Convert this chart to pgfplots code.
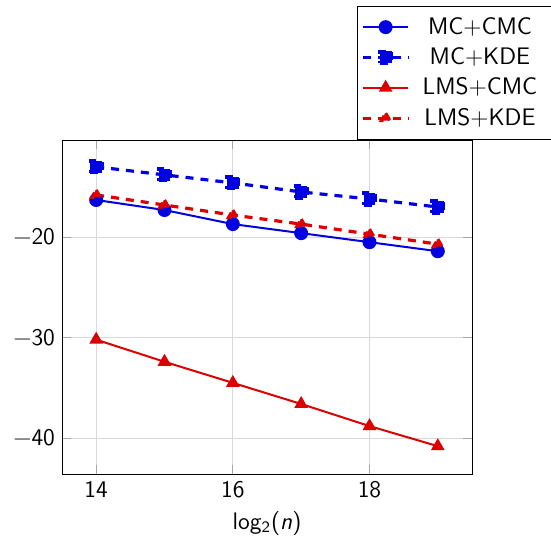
\documentclass[border=0pt]{standalone}
\usepackage{pgfplots}
\pgfplotsset{compat=1.18}
\definecolor{cblue}{RGB}{0,0,225}
\definecolor{cred}{RGB}{220,0,0}
\begin{document}
\begin{tikzpicture}
\begin{axis}[
  at={(0,0)}, anchor=south west,
  scale only axis, width=205bp, height=167bp,
  xmin=13.5, xmax=19.5, ymin=-43.57, ymax=-10.33,
  xtick={14,16,18}, xticklabels={14,16,18},
  ytick={-40,-30,-20}, yticklabels={−40,−30,−20},
  grid=major, grid style={gray!30, line width=0.6pt},
  tick style={gray!70, line width=0.6pt},
  font=\large\sffamily,
  xlabel={log\textsubscript{2}(\textit{n})},
  legend style={at={(0.7195,1.401)}, anchor=north west, font=\large\sffamily, draw=black, row sep=1.2bp, inner xsep=2pt, inner ysep=3.4pt},
  legend image code/.code={\draw[mark repeat=2,mark phase=2] plot coordinates {(0cm,0cm) (0.4cm,0cm) (0.8cm,0cm)};},
  every axis plot/.append style={mark size=3},
]
\addplot[color=cblue, line width=1bp, mark=*] coordinates {(14,-16.3) (15,-17.3) (16,-18.7) (17,-19.6) (18,-20.5) (19,-21.4)};
\addlegendentry{\makebox[66bp]{MC+CMC}}
\addplot[color=cblue, line width=1.6bp, dash pattern=on 4bp off 3.5bp, mark=square*, mark options={dash pattern=on 4bp off 3.5bp}] coordinates {(14,-13.0) (15,-13.8) (16,-14.6) (17,-15.5) (18,-16.2) (19,-17.0)};
\addlegendentry{\makebox[66bp]{MC+KDE}}
\addplot[color=cred, line width=1bp, mark=triangle*] coordinates {(14,-30.2) (15,-32.4) (16,-34.5) (17,-36.6) (18,-38.8) (19,-40.8)};
\addlegendentry{\makebox[66bp]{LMS+CMC}}
\addplot[color=cred, line width=1.6bp, dash pattern=on 4bp off 3.5bp, mark=triangle*, mark size=2.5, mark options={dash pattern=on 4bp off 3.5bp}] coordinates {(14,-15.8) (15,-16.8) (16,-17.8) (17,-18.7) (18,-19.7) (19,-20.7)};
\addlegendentry{\makebox[66bp]{LMS+KDE}}
\end{axis}
\pgfresetboundingbox
\useasboundingbox (-31bp,-33.5bp) rectangle (244.5bp,237bp);
\end{tikzpicture}
\end{document}
